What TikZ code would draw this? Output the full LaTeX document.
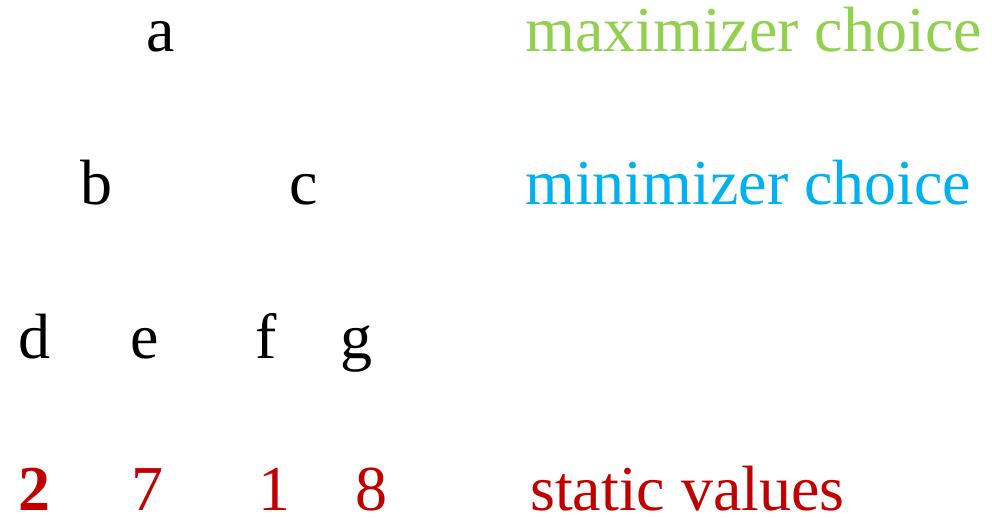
\documentclass[tikz,border=0pt]{standalone}
\usepackage{fontspec}
\setmainfont{Liberation Serif}
\definecolor{maxgreen}{HTML}{92D050}
\definecolor{minblue}{HTML}{00B0F0}
\definecolor{valred}{HTML}{C00000}
\begin{document}
\begin{tikzpicture}[x=1pt,y=1pt,
  lbl/.style={anchor=base west,inner sep=0pt,font=\fontsize{64}{70}\selectfont},
  leaf/.style={lbl,text=valred}]
\useasboundingbox (0,0) rectangle (992,518);
% tree nodes
\node[lbl] (a) at (146,466) {a};
\node[lbl] (b) at (80,313) {b};
\node[lbl] (c) at (289,313) {c};
\node[lbl] (d) at (18,159) {d};
\node[lbl] (e) at (130,159) {e};
\node[lbl] (f) at (255,159) {f};
\node[lbl] (g) at (340,159) {g};
% static values
\node[leaf,font=\fontsize{64}{70}\selectfont\bfseries] (v2) at (18,7) {2};
\node[leaf] (v7) at (131,7) {7};
\node[leaf] (v1) at (258,7) {1};
\node[leaf] (v8) at (355,7) {8};
% level legends
\node[lbl,text=maxgreen] (lmax) at (525,466) {maximizer choice};
\node[lbl,text=minblue] (lmin) at (525,313) {minimizer choice};
\node[lbl,text=valred] (lval) at (530,7) {static values};
\end{tikzpicture}
\end{document}
